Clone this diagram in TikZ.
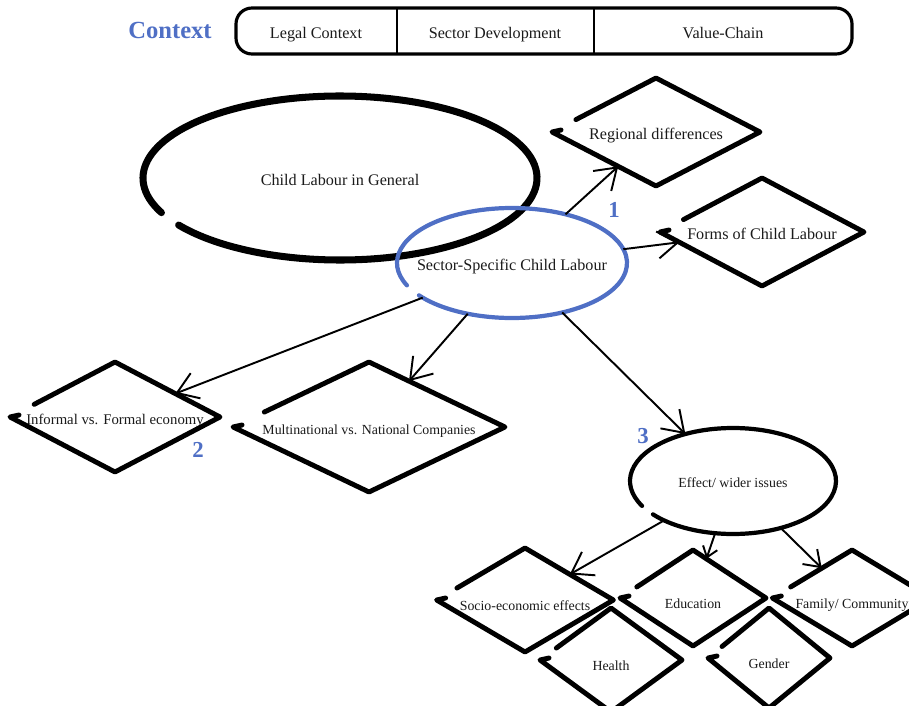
\documentclass[tikz,border=0pt]{standalone}
\usepackage{fontspec}
\setmainfont{Liberation Serif}
\usepackage{xcolor}
\usepackage{tikz}
\usetikzlibrary{calc,shapes.geometric,arrows.meta}
\definecolor{ink}{HTML}{000000}
\definecolor{txt}{HTML}{1A1A1A}
\definecolor{blu}{HTML}{4F6FC5}
\tikzset{
  sk/.style={draw=ink, line width=2.8pt, line cap=round, line join=round},
  skell/.style={draw=ink, line width=4pt, line cap=round},
  skblue/.style={draw=blu, line width=2.4pt, line cap=round},
  skeff/.style={draw=ink, line width=2.4pt, line cap=round},
  dia/.style={diamond, aspect=2.2, inner sep=0pt, outer sep=0pt, draw=none,
    text=txt, text height=8pt, text depth=0pt, font=\fontsize{9.2}{11}\selectfont},
  smalldia/.style={dia, text height=12pt, font=\fontsize{7.9}{9}\selectfont},
  ell/.style={ellipse, inner sep=0pt, outer sep=0pt, draw=none},
  lab/.style={text=txt, text height=8pt, text depth=0pt, font=\fontsize{9.2}{11}\selectfont},
  smalllab/.style={text=txt, text height=7pt, text depth=0pt, font=\fontsize{7.9}{9}\selectfont},
  arr/.style={draw=ink, line width=1.1pt, -{Straight Barb[length=4mm,width=5.4mm]}},
  smallarr/.style={draw=ink, line width=1.1pt, -{Straight Barb[length=2mm,width=3mm]}},
  num/.style={text=blu, font=\fontsize{13}{13}\selectfont\bfseries},
  bar/.style={draw=ink, line width=1.8pt, rounded corners=0.32cm}
}
% hand drawn diamond round a node
\newcommand{\skdia}[1]{%
  \draw[sk] ($(#1.west)!0.23!(#1.north)$) -- (#1.north) -- (#1.east)
    -- (#1.south) -- (#1.west) -- ++(9,2);}

\begin{document}
\begin{tikzpicture}[x=0.02cm, y=0.02cm]
  \useasboundingbox (0,0) rectangle (909,-706);

  % context bar
  \node[num, font=\fontsize{14}{14}\selectfont\bfseries] (context) at (170,-30) {Context};
  \draw[bar] (236,-8) rectangle (852,-54);
  \draw[ink, line width=1.3pt] (397,-9) -- (397,-53);
  \draw[ink, line width=1.3pt] (594,-9) -- (594,-53);
  \node[lab] (legal) at (316,-31) {Legal Context};
  \node[lab] (sectordev) at (495,-31) {Sector Development};
  \node[lab] (valuechain) at (723,-31) {Value-Chain};

  \node[ell, minimum width=7.88cm, minimum height=3.28cm,
    label={[lab]center:Child Labour in General}] (general) at (340,-178) {};
  \node[ell, minimum width=4.6cm, minimum height=2.2cm,
    label={[lab]center:Sector-Specific Child Labour}] (sector) at (512,-263) {};
  \node[ell, minimum width=4.12cm, minimum height=2.12cm,
    label={[smalllab]center:Effect/ wider issues}] (effect) at (733,-481) {};

  % open ellipses, gap at lower left
  \draw[skell] (general) ++(215:197 and 82)
    arc[start angle=215, end angle=565, x radius=197, y radius=82];
  \draw[skblue] (sector) ++(216:115 and 55)
    arc[start angle=216, end angle=564, x radius=115, y radius=55];
  \draw[skeff] (effect) ++(219:103 and 53)
    arc[start angle=219, end angle=568, x radius=103, y radius=53];

  % diamonds
  \node[dia, minimum width=4.16cm, minimum height=2.16cm] (regional) at (656,-132) {Regional differences};
  \node[dia, minimum width=4.08cm, minimum height=2.16cm] (forms) at (762,-232) {Forms of Child Labour};
  \node[dia, font=\fontsize{8.4}{10}\selectfont, minimum width=4.2cm, minimum height=2.2cm] (informal) at (115,-417) {Informal vs. Formal economy};
  \node[smalldia, text height=9pt, minimum width=5.44cm, minimum height=2.6cm] (multinat) at (369,-427) {Multinational vs. National Companies};
  \node[smalldia, minimum width=3.44cm, minimum height=2.08cm] (socio) at (525,-600) {Socio-economic effects};
  \node[smalldia, minimum width=2.92cm, minimum height=1.92cm] (education) at (693,-598) {Education};
  \node[smalldia, minimum width=2.96cm, minimum height=1.92cm] (family) at (852,-598) {Family/ Community};
  \node[smalldia, minimum width=2.84cm, minimum height=2.08cm] (health) at (611,-660) {Health};
  \node[smalldia, minimum width=2.44cm, minimum height=2cm] (gender) at (769,-658) {Gender};

  \skdia{regional}
  \skdia{forms}
  \skdia{informal}
  \skdia{multinat}
  \skdia{socio}
  \skdia{education}
  \skdia{family}
  \skdia{health}
  \skdia{gender}

  % connectors
  \draw[arr] (sector) -- (regional);
  \draw[arr] (sector) -- (forms);
  \draw[arr] (sector) -- (informal);
  \draw[arr] (sector) -- (multinat);
  \draw[arr] (sector) -- (effect);
  \draw[arr] (effect) -- (socio);
  \draw[smallarr] (effect) -- (education);
  \draw[arr, -{Straight Barb[length=3mm,width=4.2mm]}] (effect) -- (family);

  \node[num] (one) at (614,-210) {1};
  \node[num] (two) at (198,-450) {2};
  \node[num] (three) at (643,-436) {3};
\end{tikzpicture}
\end{document}
